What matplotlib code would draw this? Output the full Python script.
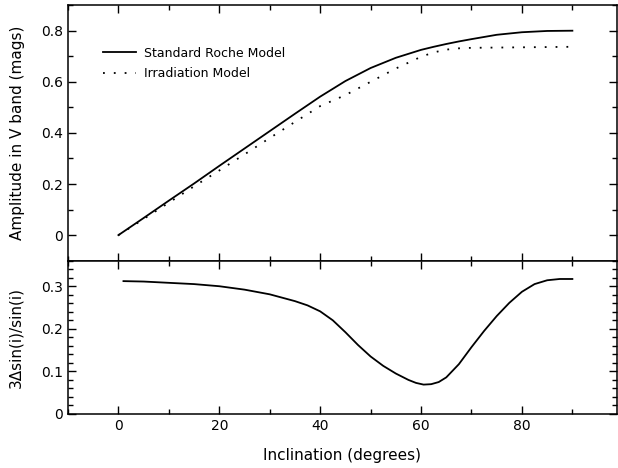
import matplotlib
matplotlib.use("Agg")
import matplotlib.pyplot as plt
from matplotlib.ticker import MultipleLocator, FuncFormatter

# inclination grid (degrees) for the amplitude curves
incl = [0, 5, 10, 15, 20, 25, 30, 35, 40, 45, 50, 55, 60, 62.5, 65, 67.5, 70, 75, 80, 85, 90]
# Standard Roche model amplitude (mags)
roche = [0, 0.067, 0.135, 0.202, 0.271, 0.339, 0.407, 0.475, 0.542, 0.603, 0.654,
         0.694, 0.725, 0.737, 0.748, 0.758, 0.767, 0.784, 0.794, 0.799, 0.800]
# Irradiation model amplitude (mags)
irrad = [0, 0.063, 0.127, 0.191, 0.253, 0.316, 0.380, 0.443, 0.505, 0.548, 0.600,
         0.652, 0.698, 0.715, 0.726, 0.731, 0.733, 0.734, 0.735, 0.736, 0.737]

# lower panel: 3*Delta sin(i)/sin(i)
incl2 = [1, 5, 10, 15, 20, 25, 30, 35, 37.5, 40, 42.5, 45, 47.5, 50, 52.5, 55, 57.5,
         59, 60.5, 62, 63.5, 65, 67.5, 70, 72.5, 75, 77.5, 80, 82.5, 85, 87.5, 90]
ratio = [0.312, 0.311, 0.308, 0.305, 0.300, 0.292, 0.281, 0.265, 0.255, 0.241, 0.220,
         0.192, 0.162, 0.135, 0.113, 0.095, 0.080, 0.073, 0.069, 0.070, 0.075, 0.086,
         0.117, 0.157, 0.195, 0.230, 0.261, 0.287, 0.305, 0.314, 0.317, 0.317]

plt.rcParams['font.family'] = 'DejaVu Sans'

fig = plt.figure(figsize=(6.18, 4.68), dpi=100)
left, right = 0.110, 0.998
ax1 = fig.add_axes([left, 0.443, right - left, 0.989 - 0.443])
ax2 = fig.add_axes([left, 0.1154, right - left, 0.443 - 0.1154], sharex=ax1)

ax1.plot(incl, roche, 'k-', lw=1.3, label='Standard Roche Model')
ax1.plot(incl, irrad, 'k', lw=1.3, linestyle=(0, (1, 5)), label='Irradiation Model')
ax2.plot(incl2, ratio, 'k-', lw=1.3)

ax1.set_xlim(-10, 98.8)
ax1.set_ylim(-0.1, 0.9)
ax2.set_ylim(0, 0.36)

fmt = FuncFormatter(lambda v, p: '0' if abs(v) < 1e-9 else f'{v:.1f}')
ax1.yaxis.set_major_locator(MultipleLocator(0.2))
ax1.yaxis.set_minor_locator(MultipleLocator(0.1))
ax1.yaxis.set_major_formatter(fmt)
ax2.yaxis.set_major_locator(MultipleLocator(0.1))
ax2.yaxis.set_minor_locator(MultipleLocator(0.02))
ax2.yaxis.set_major_formatter(fmt)
ax2.xaxis.set_major_locator(MultipleLocator(20))
ax2.xaxis.set_minor_locator(MultipleLocator(10))

for ax in (ax1, ax2):
    ax.tick_params(which='both', direction='in', top=True, right=True, labelsize=10, width=1)
    ax.tick_params(which='major', length=6)
    ax.tick_params(which='minor', length=3.5)
    for s in ax.spines.values():
        s.set_linewidth(1.1)
ax1.tick_params(labelbottom=False)

ax1.set_ylabel('Amplitude in V band (mags)', fontsize=11)
ax2.set_ylabel('3\u0394sin(i)/sin(i)', fontsize=11)
ax2.set_xlabel('Inclination (degrees)', fontsize=11, labelpad=11)
ax1.yaxis.set_label_coords(-0.078, 0.5)
ax2.yaxis.set_label_coords(-0.082, 0.5)

ax1.legend(loc='upper left', bbox_to_anchor=(0.064, 0.837), frameon=False, fontsize=9,
           handlelength=2.6, handletextpad=0.7, labelspacing=0.6,
           borderpad=0, borderaxespad=0)

fig.savefig('out.png', dpi=100)
